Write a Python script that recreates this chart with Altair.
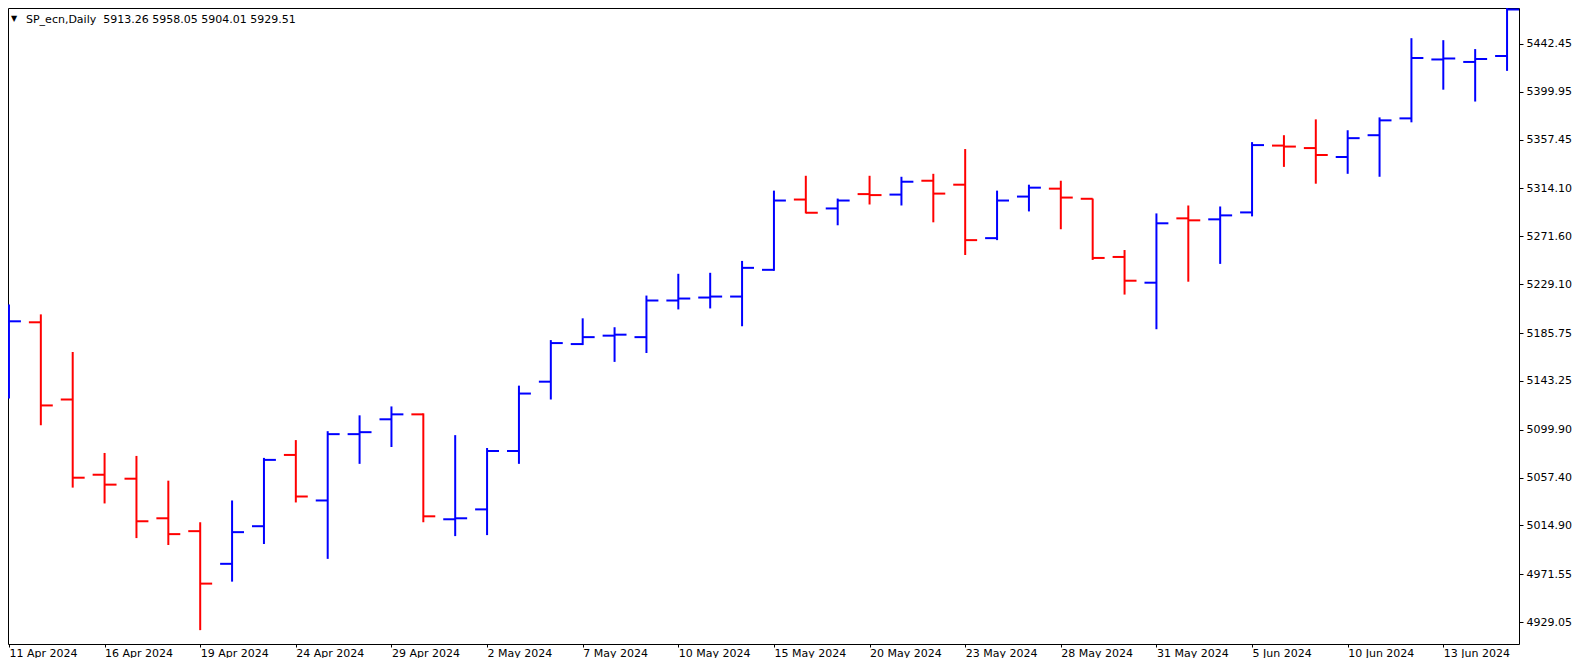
import altair as alt
import pandas as pd

dates = ["11 Apr 2024", "12 Apr 2024", "15 Apr 2024", "16 Apr 2024", "17 Apr 2024", "18 Apr 2024",
         "19 Apr 2024", "22 Apr 2024", "23 Apr 2024", "24 Apr 2024", "25 Apr 2024", "26 Apr 2024",
         "29 Apr 2024", "30 Apr 2024", "1 May 2024", "2 May 2024", "3 May 2024", "6 May 2024",
         "7 May 2024", "8 May 2024", "9 May 2024", "10 May 2024", "13 May 2024", "14 May 2024",
         "15 May 2024", "16 May 2024", "17 May 2024", "20 May 2024", "21 May 2024", "22 May 2024",
         "23 May 2024", "24 May 2024", "27 May 2024", "28 May 2024", "29 May 2024", "30 May 2024",
         "31 May 2024", "3 Jun 2024", "4 Jun 2024", "5 Jun 2024", "6 Jun 2024", "7 Jun 2024",
         "10 Jun 2024", "11 Jun 2024", "12 Jun 2024", "13 Jun 2024", "14 Jun 2024", "17 Jun 2024"]

opens = [5150.00, 5195.26, 5126.72, 5059.94, 5056.42, 5021.28, 5009.85, 4980.85, 5014.24, 5077.51,
         5037.09, 5095.97, 5109.15, 5113.54, 5020.40, 5029.18, 5081.03, 5142.54, 5175.93, 5183.40,
         5182.08, 5214.60, 5217.23, 5218.11, 5241.84, 5304.23, 5296.32, 5309.06, 5308.62, 5320.92,
         5317.41, 5269.96, 5306.86, 5313.89, 5304.90, 5253.26, 5230.41, 5287.53, 5286.65, 5292.80,
         5352.12, 5349.92, 5342.01, 5361.34, 5376.28, 5428.57, 5426.37, 5431.64]
highs = [5211.08, 5202.29, 5168.90, 5079.27, 5076.63, 5054.67, 5017.76, 5037.09, 5074.88, 5090.69,
         5098.60, 5112.66, 5120.57, 5114.42, 5095.09, 5083.66, 5139.03, 5179.45, 5198.78, 5190.87,
         5218.99, 5238.32, 5239.20, 5249.74, 5312.14, 5325.32, 5305.10, 5325.32, 5324.44, 5327.07,
         5349.04, 5312.14, 5317.41, 5320.92, 5305.10, 5259.41, 5291.92, 5298.95, 5298.07, 5355.19,
         5361.34, 5375.40, 5365.74, 5377.16, 5447.46, 5445.70, 5437.79, 5480.00]
lows = [5127.60, 5103.87, 5048.51, 5034.45, 5003.70, 4997.55, 4921.98, 4965.04, 4998.43, 5035.33,
        4985.25, 5069.60, 5084.54, 5017.76, 5005.46, 5006.34, 5069.60, 5126.72, 5175.05, 5160.11,
        5168.02, 5206.69, 5207.57, 5191.75, 5240.96, 5291.92, 5281.38, 5299.83, 5298.95, 5284.01,
        5255.02, 5268.20, 5293.68, 5277.86, 5250.62, 5219.87, 5189.11, 5231.29, 5247.11, 5289.29,
        5333.22, 5318.29, 5327.07, 5324.44, 5372.77, 5401.76, 5391.22, 5418.46]
closes = [5196.14, 5121.45, 5057.30, 5051.15, 5018.64, 5007.22, 4963.28, 5008.97, 5073.12, 5040.61,
          5095.97, 5097.72, 5113.54, 5023.03, 5021.28, 5081.03, 5132.00, 5176.81, 5182.08, 5184.28,
          5214.60, 5216.35, 5218.11, 5243.59, 5303.35, 5292.50, 5303.35, 5308.18, 5320.04, 5309.50,
          5268.20, 5303.35, 5314.77, 5305.98, 5252.38, 5232.17, 5283.14, 5285.77, 5290.17, 5352.56,
          5351.24, 5343.77, 5358.71, 5374.52, 5429.88, 5429.44, 5429.01, 5472.94]

price_ticks = [5442.45, 5399.95, 5357.45, 5314.10, 5271.60, 5229.10, 5185.75,
               5143.25, 5099.90, 5057.40, 5014.90, 4971.55, 4929.05]
date_tick_idx = list(range(0, 48, 3))

header_symbol = "SP_ecn,Daily"
header_ohlc = ["5913.26", "5958.05", "5904.01", "5929.51"]

df = pd.DataFrame({
    "i": list(range(len(dates))),
    "date": dates,
    "open": opens,
    "high": highs,
    "low": lows,
    "close": closes,
})

FONT = "DejaVu Sans"
label_array = "[" + ",".join("'" + d + "'" for d in dates) + "]"

xscale = alt.Scale(domain=[-0.03, 47.375], nice=False, zero=False)
yscale = alt.Scale(domain=[4909.68, 5474.26], nice=False, zero=False)

xaxis = alt.Axis(
    values=date_tick_idx,
    labelExpr=label_array + "[round(datum.value)]",
    orient="bottom",
    domain=False,
    grid=False,
    ticks=True,
    tickSize=3,
    tickColor="black",
    labelAlign="left",
    labelBaseline="top",
    labelPadding=0,
    labelFlush=False,
    labelOverlap=False,
    labelBound=False,
    labelFont=FONT,
    labelFontSize=11,
    labelColor="black",
    title=None,
)
yaxis = alt.Axis(
    values=price_ticks,
    format=".2f",
    orient="right",
    domain=False,
    grid=False,
    tickSize=4,
    tickColor="black",
    labelPadding=3,
    labelFlush=False,
    labelOverlap=False,
    labelFont=FONT,
    labelFontSize=11,
    labelColor="black",
    title=None,
)

color = alt.Color(
    "dir:N",
    scale=alt.Scale(domain=["up", "down"], range=["#0000FF", "#FF0000"]),
    legend=None,
)

base = alt.Chart(df).transform_calculate(
    dir="datum.close >= datum.open ? 'up' : 'down'",
    xo="datum.i - 0.375",
    xc="datum.i + 0.375",
)

hl = base.mark_rule(strokeWidth=2, clip=True).encode(
    x=alt.X("i:Q", scale=xscale, axis=xaxis),
    y=alt.Y("low:Q", scale=yscale, axis=yaxis),
    y2="high:Q",
    color=color,
)
op = base.mark_rule(strokeWidth=2, clip=True).encode(
    x=alt.X("xo:Q", scale=xscale, axis=xaxis),
    x2="i:Q",
    y=alt.Y("open:Q", scale=yscale, axis=yaxis),
    color=color,
)
cl = base.mark_rule(strokeWidth=2, clip=True).encode(
    x=alt.X("i:Q", scale=xscale, axis=xaxis),
    x2="xc:Q",
    y=alt.Y("close:Q", scale=yscale, axis=yaxis),
    color=color,
)

hdr_df = pd.DataFrame({
    "sym": ["\u25BC"],
    "t": [header_symbol + "\u00a0\u00a0" + " ".join(header_ohlc)],
})
tri = alt.Chart(hdr_df).mark_text(
    align="left", baseline="alphabetic", font=FONT, fontSize=8, color="black"
).encode(x=alt.value(3), y=alt.value(13), text="sym:N")
hdr = alt.Chart(hdr_df).mark_text(
    align="left", baseline="alphabetic", font=FONT, fontSize=11, color="black"
).encode(x=alt.value(18), y=alt.value(15), text="t:N")

chart = alt.layer(hl, op, cl, tri, hdr).properties(
    width=1511,
    height=636,
    padding=0,
    background="white",
).configure_view(
    stroke="black",
    strokeWidth=1,
    fill="white",
)

chart.save("out.html", embed_options={"renderer": "svg", "actions": False})
